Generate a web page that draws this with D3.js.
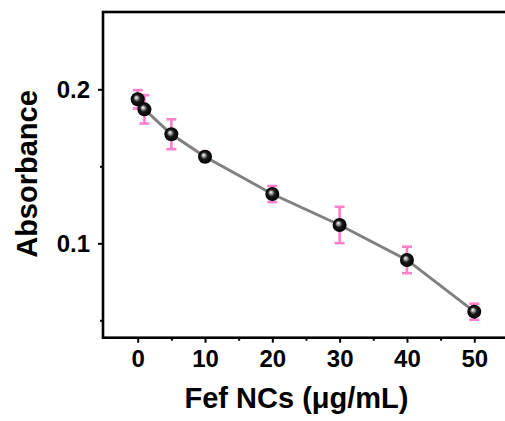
<!DOCTYPE html>
<html>
<head>
<meta charset="utf-8">
<script src="https://cdn.jsdelivr.net/npm/d3@7"></script>
<style>
  html, body { margin: 0; padding: 0; background: #fff; }
  svg { display: block; }
  .tick text { font-family: "Liberation Sans", Arial, sans-serif; font-weight: bold; font-size: 24px; fill: #000; }
</style>
</head>
<body>
<svg id="chart" width="505" height="421"></svg>
<script>
// Absorbance versus Fef NC concentration
const concentrations = [0, 1, 5, 10, 20, 30, 40, 50];
const absorbance     = [0.1935, 0.187, 0.1708, 0.1562, 0.132, 0.1119, 0.0892, 0.0556];
const errors         = [0.006, 0.0092, 0.0097, 0.003, 0.0052, 0.0118, 0.0086, 0.0052];
const xMajorTicks = [0, 10, 20, 30, 40, 50];
const xMinorTicks = [5, 15, 25, 35, 45];
const yMajorTicks = [0.1, 0.2];
const yMinorTicks = [0.05, 0.15];
const xTitle = "Fef NCs (μg/mL)";
const yTitle = "Absorbance";

const svg = d3.select("#chart");
const plotLeft = 103, plotRight = 509, plotTop = 12, plotBottom = 337.7;

const x = d3.scaleLinear().domain([-5.155, 55.16]).range([plotLeft, plotRight]);
const y = d3.scaleLinear().domain([0.0387, 0.2502]).range([plotBottom, plotTop]);

const defs = svg.append("defs");
const grad = defs.append("radialGradient")
  .attr("id", "ball").attr("cx", "50%").attr("cy", "50%").attr("r", "50%")
  .attr("fx", "38%").attr("fy", "36%");
grad.append("stop").attr("offset", "0%").attr("stop-color", "#ffffff");
grad.append("stop").attr("offset", "20%").attr("stop-color", "#b0b0b0");
grad.append("stop").attr("offset", "50%").attr("stop-color", "#1a1a1a");
grad.append("stop").attr("offset", "100%").attr("stop-color", "#000000");

// axes
const axisStyle = g => {
  g.select(".domain").remove();
  g.selectAll(".tick line").attr("stroke", "#000").attr("stroke-width", 2);
};

svg.append("g").attr("transform", `translate(0,${plotBottom})`)
  .call(d3.axisBottom(x).tickValues(xMinorTicks).tickSize(3).tickFormat(""))
  .call(axisStyle);
svg.append("g").attr("transform", `translate(0,${plotBottom})`)
  .call(d3.axisBottom(x).tickValues(xMajorTicks).tickSize(5).tickPadding(7).tickFormat(d3.format("d")))
  .call(axisStyle);

svg.append("g").attr("transform", `translate(${plotLeft},0)`)
  .call(d3.axisLeft(y).tickValues(yMinorTicks).tickSize(3).tickFormat(""))
  .call(axisStyle);
svg.append("g").attr("transform", `translate(${plotLeft},0)`)
  .call(d3.axisLeft(y).tickValues(yMajorTicks).tickSize(5).tickPadding(8).tickFormat(d3.format(".1f")))
  .call(axisStyle)
  .selectAll(".tick text").attr("dy", "0.35em");

// frame
svg.append("rect")
  .attr("x", plotLeft).attr("y", plotTop)
  .attr("width", plotRight - plotLeft).attr("height", plotBottom - plotTop)
  .attr("fill", "none").attr("stroke", "#000").attr("stroke-width", 2.6);

const pts = concentrations.map((c, i) => ({ c, a: absorbance[i], e: errors[i] }));

// connecting line
svg.append("path")
  .datum(pts)
  .attr("fill", "none").attr("stroke", "#808080").attr("stroke-width", 3)
  .attr("d", d3.line().x(d => x(d.c)).y(d => y(d.a)));

// error bars
const eb = svg.append("g").attr("stroke", "#ff7fc8").attr("stroke-width", 2.6);
pts.forEach(d => {
  const cx = x(d.c), y1 = y(d.a + d.e), y2 = y(d.a - d.e);
  eb.append("line").attr("x1", cx).attr("x2", cx).attr("y1", y1).attr("y2", y2);
  eb.append("line").attr("x1", cx - 5).attr("x2", cx + 5).attr("y1", y1).attr("y2", y1);
  eb.append("line").attr("x1", cx - 5).attr("x2", cx + 5).attr("y1", y2).attr("y2", y2);
});

// markers
svg.append("g").selectAll("circle").data(pts).join("circle")
  .attr("cx", d => x(d.c)).attr("cy", d => y(d.a)).attr("r", 7)
  .attr("fill", "url(#ball)");

// titles
svg.append("text")
  .attr("x", 296.5).attr("y", 408)
  .attr("text-anchor", "middle")
  .style("font-family", '"Liberation Sans", Arial, sans-serif')
  .style("font-weight", "bold").style("font-size", "29px")
  .text(xTitle);

svg.append("text")
  .attr("transform", "translate(37,174) rotate(-90)")
  .attr("text-anchor", "middle")
  .style("font-family", '"Liberation Sans", Arial, sans-serif')
  .style("font-weight", "bold").style("font-size", "29px")
  .text(yTitle);
</script>
</body>
</html>
